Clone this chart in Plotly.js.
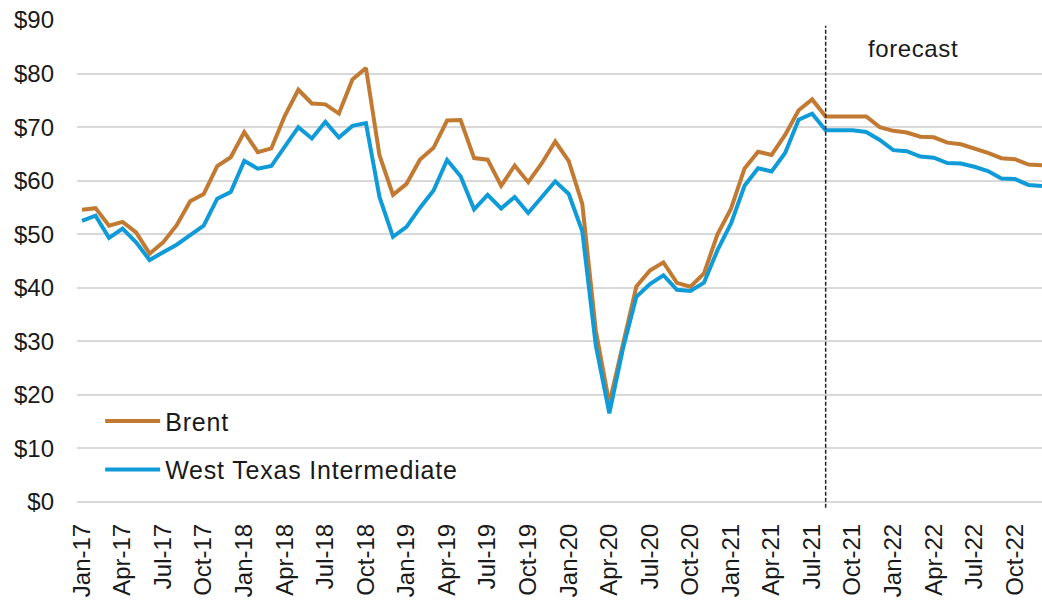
<!DOCTYPE html>
<html>
<head>
<meta charset="utf-8">
<script src="https://cdn.plot.ly/plotly-3.0.1.min.js"></script>
<style>
  html, body { margin: 0; padding: 0; background: #ffffff; }
  #chart { width: 1042px; height: 601px; }
  .legendtext { letter-spacing: 0.8px; }
  .annotation-text { letter-spacing: 0.6px; }
</style>
</head>
<body>
<div id="chart"></div>
<script>
// ---- data ----
const monthNames = ['Jan','Feb','Mar','Apr','May','Jun','Jul','Aug','Sep','Oct','Nov','Dec'];
const years = ['17','18','19','20','21','22'];
const months = [];
years.forEach(y => monthNames.forEach(m => months.push(m + '-' + y)));

const brent = [
  54.58, 54.87, 51.59, 52.31, 50.33, 46.37, 48.48, 51.70, 56.15, 57.51, 62.71, 64.37,
  69.08, 65.32, 66.02, 72.11, 76.98, 74.41, 74.25, 72.53, 78.89, 81.03, 64.75, 57.36,
  59.41, 63.96, 66.14, 71.23, 71.32, 64.22, 63.92, 59.04, 62.83, 59.71, 63.21, 67.31,
  63.65, 55.66, 32.01, 18.38, 29.38, 40.27, 43.24, 44.74, 40.91, 40.19, 42.69, 49.99,
  54.77, 62.28, 65.41, 64.81, 68.53, 73.16, 75.17, 72.0, 72.0, 72.0, 72.0, 70.0,
  69.3, 69.0, 68.2, 68.1, 67.1, 66.8, 66.0, 65.2, 64.2, 64.0, 63.0, 62.9
];
const wti = [
  52.50, 53.47, 49.33, 51.06, 48.48, 45.18, 46.63, 48.04, 49.82, 51.58, 56.64, 57.88,
  63.70, 62.23, 62.73, 66.25, 69.98, 67.87, 70.98, 68.06, 70.23, 70.75, 56.96, 49.52,
  51.38, 54.95, 58.15, 63.86, 60.83, 54.66, 57.35, 54.81, 56.95, 53.96, 57.03, 59.88,
  57.52, 50.54, 29.21, 16.55, 28.56, 38.31, 40.71, 42.34, 39.63, 39.40, 40.94, 47.02,
  52.00, 59.04, 62.33, 61.72, 65.17, 71.38, 72.49, 69.4, 69.4, 69.4, 69.1, 67.6,
  65.7, 65.5, 64.5, 64.3, 63.3, 63.2, 62.6, 61.8, 60.4, 60.3, 59.2, 59.0
];
const tickLabels = months.filter((m, i) => i % 3 === 0);
const forecastStart = 'Aug-21';
const forecastText = 'forecast';
const forecastTextAt = 'Nov-21';
const yTicks = [0, 10, 20, 30, 40, 50, 60, 70, 80, 90];
const yTickText = yTicks.map(v => '$' + v);

// ---- styles ----
const FONT = 'Liberation Sans, Arial, sans-serif';
const TXT = '#1a1a1a';
const brentColor = '#C27A32';
const wtiColor = '#0E9BD8';

const traces = [
  { x: months, y: brent, type: 'scatter', mode: 'lines', name: 'Brent',
    legendgroup: 'b', line: { color: brentColor, width: 4 } },
  { x: months, y: wti, type: 'scatter', mode: 'lines', name: 'West Texas Intermediate',
    legendgroup: 'w', line: { color: wtiColor, width: 4 } }
];

const layout = {
  width: 1042, height: 601,
  margin: { l: 77, r: 0, t: 20, b: 99 },
  paper_bgcolor: '#ffffff', plot_bgcolor: '#ffffff',
  font: { family: FONT, color: TXT, size: 24 },
  showlegend: true,
  legend: {
    x: 0.024, y: 0.215, xanchor: 'left', yanchor: 'top',
    bgcolor: 'rgba(0,0,0,0)', font: { size: 25, color: TXT, family: FONT },
    tracegroupgap: 13, itemwidth: 55
  },
  xaxis: {
    type: 'category', range: [-0.37, 71],
    tickmode: 'array', tickvals: tickLabels, ticktext: tickLabels,
    tickangle: -90, tickfont: { size: 24, color: TXT, family: FONT },
    showgrid: false, zeroline: false, showline: false, ticks: '',
    ticklabelstandoff: 16
  },
  yaxis: {
    range: [0, 90], tickmode: 'array', tickvals: yTicks, ticktext: yTickText,
    tickfont: { size: 24, color: TXT, family: FONT },
    showgrid: true, gridcolor: '#d9d9d9', gridwidth: 2,
    zeroline: true, zerolinecolor: '#d9d9d9', zerolinewidth: 2,
    showline: false, ticks: '', ticklabelstandoff: 22
  },
  shapes: [{
    type: 'line', xref: 'x', yref: 'paper',
    x0: forecastStart, x1: forecastStart, y0: -0.012, y1: 0.988,
    line: { color: '#222', width: 1.5, dash: '4px,2px' }
  }],
  annotations: [{
    x: forecastTextAt, y: 84.6, xref: 'x', yref: 'y',
    text: forecastText, showarrow: false, xanchor: 'left', yanchor: 'middle',
    font: { size: 24, color: TXT, family: FONT }
  }]
};

Plotly.newPlot('chart', traces, layout, { displayModeBar: false, staticPlot: true });
</script>
</body>
</html>
